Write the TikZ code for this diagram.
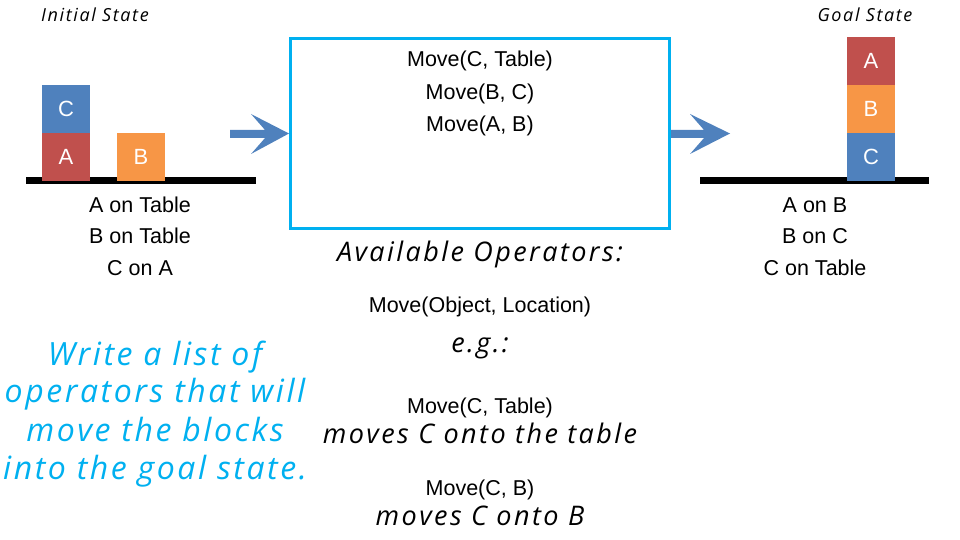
\documentclass[tikz,border=0pt]{standalone}
\usepackage{fontspec}
\setmainfont{Liberation Sans}
\newfontfamily\hand{Open Sans}[LetterSpace=9]
\newfontfamily\bluehandfont{Open Sans}[LetterSpace=8]
\definecolor{blkblue}{HTML}{4F81BD}
\definecolor{blkred}{HTML}{C0504D}
\definecolor{blkorange}{HTML}{F79646}
\definecolor{boxblue}{HTML}{00B0F0}
\begin{document}
\begin{tikzpicture}[x=1pt,y=-1pt,
  arial/.style={font=\fontsize{21.5}{26}\selectfont, anchor=base, inner sep=0pt},
  handtext/.style={font=\hand\itshape\fontsize{27}{32}\selectfont, anchor=base, inner sep=0pt},
  smallhand/.style={font=\hand\itshape\fontsize{18}{22}\selectfont, anchor=base, inner sep=0pt},
  bluehand/.style={font=\bluehandfont\itshape\fontsize{32}{38}\selectfont, text=boxblue, anchor=base, inner sep=0pt},
  block/.style={minimum width=48pt, minimum height=48pt, inner sep=0pt, outer sep=0pt, text=white, font=\fontsize{22}{26}\selectfont},
  tablebar/.style={line width=7pt},
  flowarrow/.style={fill=blkblue}
]
\useasboundingbox (0,0) rectangle (960,540);

% titles
\node[smallhand] (initt) at (95,22) {Initial State};
\node[smallhand] (goalt) at (865,22) {Goal State};

% initial state
\coordinate (lt1) at (26,180.5);
\coordinate (lt2) at (256,180.5);
\draw[tablebar] (lt1) -- (lt2);
\node[block, fill=blkred] (iA) at (66,157) {A};
\node[block, fill=blkblue] (iC) at (66,109) {C};
\node[block, fill=blkorange] (iB) at (141,157) {B};
\node[arial] (is1) at (140,212) {A on Table};
\node[arial] (is2) at (140,243.5) {B on Table};
\node[arial] (is3) at (140,275) {C on A};

% goal state
\coordinate (rt1) at (700,180.5);
\coordinate (rt2) at (929,180.5);
\draw[tablebar] (rt1) -- (rt2);
\node[block, fill=blkred] (gA) at (871,61) {A};
\node[block, fill=blkorange] (gB) at (871,109) {B};
\node[block, fill=blkblue] (gC) at (871,157) {C};
\node[arial] (gs1) at (815,212) {A on B};
\node[arial] (gs2) at (815,243.5) {B on C};
\node[arial] (gs3) at (815,275) {C on Table};

% plan box
\node[draw=boxblue, line width=3pt, minimum width=379pt, minimum height=190pt, inner sep=0pt] (plan) at (480,133.5) {};
\node[arial] (p1) at (480,67) {Move(C, Table)};
\node[arial] (p2) at (480,99.3) {Move(B, C)};
\node[arial] (p3) at (480,131.6) {Move(A, B)};

% arrows
\fill[flowarrow] (230,130) -- (265,130) -- (251,114) -- (plan.west) -- (251,154) -- (265,138) -- (230,138) -- cycle;
\coordinate (rtip) at (730,133.5);
\fill[flowarrow] (plan.east) ++(0,-3.5) -- (704,130) -- (690,114) -- (rtip) -- (690,154) -- (704,138) -- (plan.east |- 0,138) -- cycle;

% operators
\node[handtext] (avail) at (480,261) {Available Operators:};
\node[arial] (mo) at (480,312) {Move(Object, Location)};
\node[handtext] (eg) at (480,352) {e.g.:};
\node[arial] (ex1) at (480,413) {Move(C, Table)};
\node[handtext] (ex1d) at (480,443) {moves C onto the table};
\node[arial] (ex2) at (480,495) {Move(C, B)};
\node[handtext] (ex2d) at (480,525) {moves C onto B};

% instruction
\node[bluehand] (w1) at (155,365) {Write a list of};
\node[bluehand] (w2) at (155,402) {operators that will};
\node[bluehand] (w3) at (155,441) {move the blocks};
\node[bluehand] (w4) at (155,479) {into the goal state.};
\end{tikzpicture}
\end{document}
